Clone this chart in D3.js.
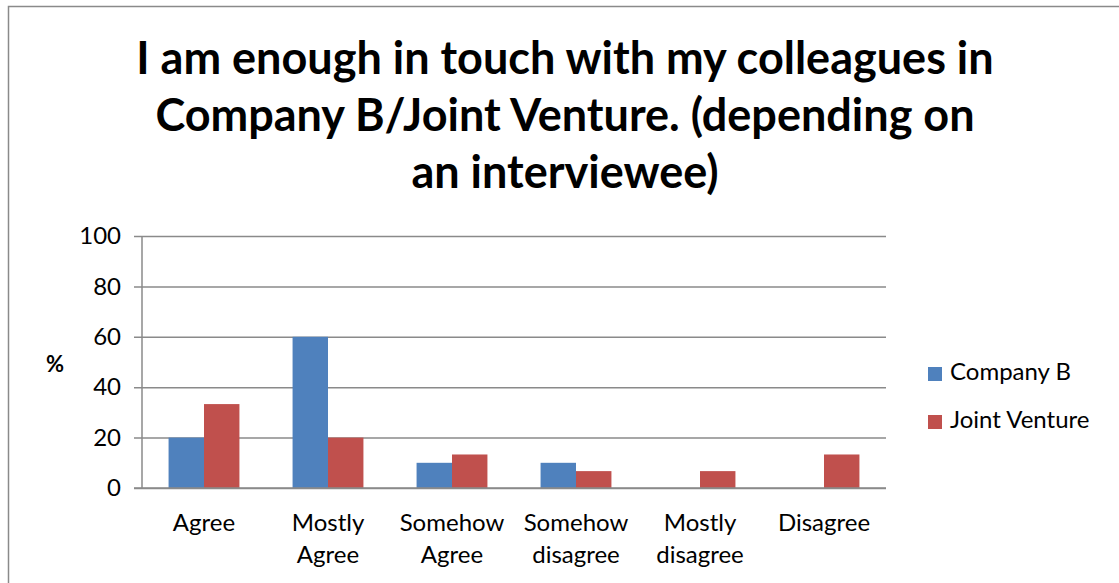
<!DOCTYPE html>
<html>
<head>
<meta charset="utf-8">
<script src="https://cdn.jsdelivr.net/npm/d3@7"></script>
<style>
  html, body { margin: 0; padding: 0; background: #fff; }
  svg { display: block; font-family: Lato, "Open Sans", sans-serif; }
</style>
</head>
<body>
<svg id="chart" width="1119" height="583"></svg>
<script>
// Survey answers, share of interviewees (%)
const categories = [["Agree"], ["Mostly", "Agree"], ["Somehow", "Agree"], ["Somehow", "disagree"], ["Mostly", "disagree"], ["Disagree"]];
const seriesNames = ["Company B", "Joint Venture"];
const companyB = [20, 60, 10, 10, 0, 0];
const jointVenture = [33.3, 20, 13.3, 6.7, 6.7, 13.3];
const yTicks = [0, 20, 40, 60, 80, 100];
const titleLines = ["I am enough in touch with my colleagues in", "Company B/Joint Venture. (depending on", "an interviewee)"];
const colors = ["#4F81BD", "#C0504D"];

const svg = d3.select("#chart");
const plot = { left: 142, right: 886, top: 236, bottom: 488 };

// outer chart frame
svg.append("rect")
  .attr("x", 8.5).attr("y", 6.5).attr("width", 1130).attr("height", 600)
  .attr("fill", "#fff").attr("stroke", "#8a8a8a").attr("stroke-width", 1.5);

// title
svg.append("g").selectAll("text").data(titleLines).join("text")
  .attr("x", 565).attr("y", (d, i) => 74 + i * 57)
  .attr("text-anchor", "middle")
  .attr("font-weight", "bold").attr("font-size", 45).attr("fill", "#000")
  .text(d => d);

const x0 = d3.scaleBand().domain(d3.range(categories.length))
  .range([plot.left, plot.right]).paddingInner(0).paddingOuter(0);
const x1 = d3.scaleBand().domain(d3.range(seriesNames.length))
  .range([0, x0.bandwidth()]).paddingInner(0).paddingOuter(0.75);
const y = d3.scaleLinear().domain([0, 100]).range([plot.bottom, plot.top]);

// gridlines and y axis
const yAxis = d3.axisLeft(y).tickValues(yTicks).tickSize(plot.right - plot.left + 8).tickPadding(13);
const gy = svg.append("g").attr("transform", `translate(${plot.right},0)`).call(yAxis);
gy.select(".domain").remove();
gy.selectAll(".tick line").attr("stroke", "#8a8a8a").attr("stroke-width", 1.5);
gy.selectAll(".tick text").attr("font-size", 24).attr("fill", "#000")
  .attr("font-family", "Lato, 'Open Sans', sans-serif");

// vertical axis line
svg.append("line")
  .attr("x1", plot.left).attr("x2", plot.left)
  .attr("y1", plot.top).attr("y2", plot.bottom)
  .attr("stroke", "#8a8a8a").attr("stroke-width", 1.5);

// bars
const values = [companyB, jointVenture];
const groups = svg.append("g").selectAll("g").data(categories).join("g")
  .attr("transform", (d, i) => `translate(${x0(i)},0)`);
groups.selectAll("rect")
  .data((d, i) => values.map((v, s) => ({ s, v: v[i] })))
  .join("rect")
  .attr("x", d => x1(d.s))
  .attr("width", x1.bandwidth())
  .attr("y", d => y(d.v))
  .attr("height", d => y(0) - y(d.v))
  .attr("fill", d => colors[d.s]);

// bottom axis line drawn over bars
svg.append("line")
  .attr("x1", plot.left - 8).attr("x2", plot.right)
  .attr("y1", plot.bottom).attr("y2", plot.bottom)
  .attr("stroke", "#8a8a8a").attr("stroke-width", 1.5);

// category labels
groups.append("text")
  .attr("x", x0.bandwidth() / 2)
  .attr("text-anchor", "middle").attr("font-size", 24).attr("fill", "#000")
  .selectAll("tspan").data(d => d).join("tspan")
  .attr("x", x0.bandwidth() / 2)
  .attr("y", (d, i) => 531 + i * 32)
  .text(d => d);

// y axis label
svg.append("text")
  .attr("x", 55).attr("y", 372).attr("text-anchor", "middle")
  .attr("font-weight", "bold").attr("font-size", 22).text("%");

// legend
const legend = svg.append("g").selectAll("g").data(seriesNames).join("g")
  .attr("transform", (d, i) => `translate(928,${367 + i * 48})`);
legend.append("rect").attr("width", 14).attr("height", 14).attr("fill", (d, i) => colors[i]);
legend.append("text").attr("x", 22).attr("y", 13)
  .attr("font-size", 24).attr("fill", "#000").text(d => d);
</script>
</body>
</html>
